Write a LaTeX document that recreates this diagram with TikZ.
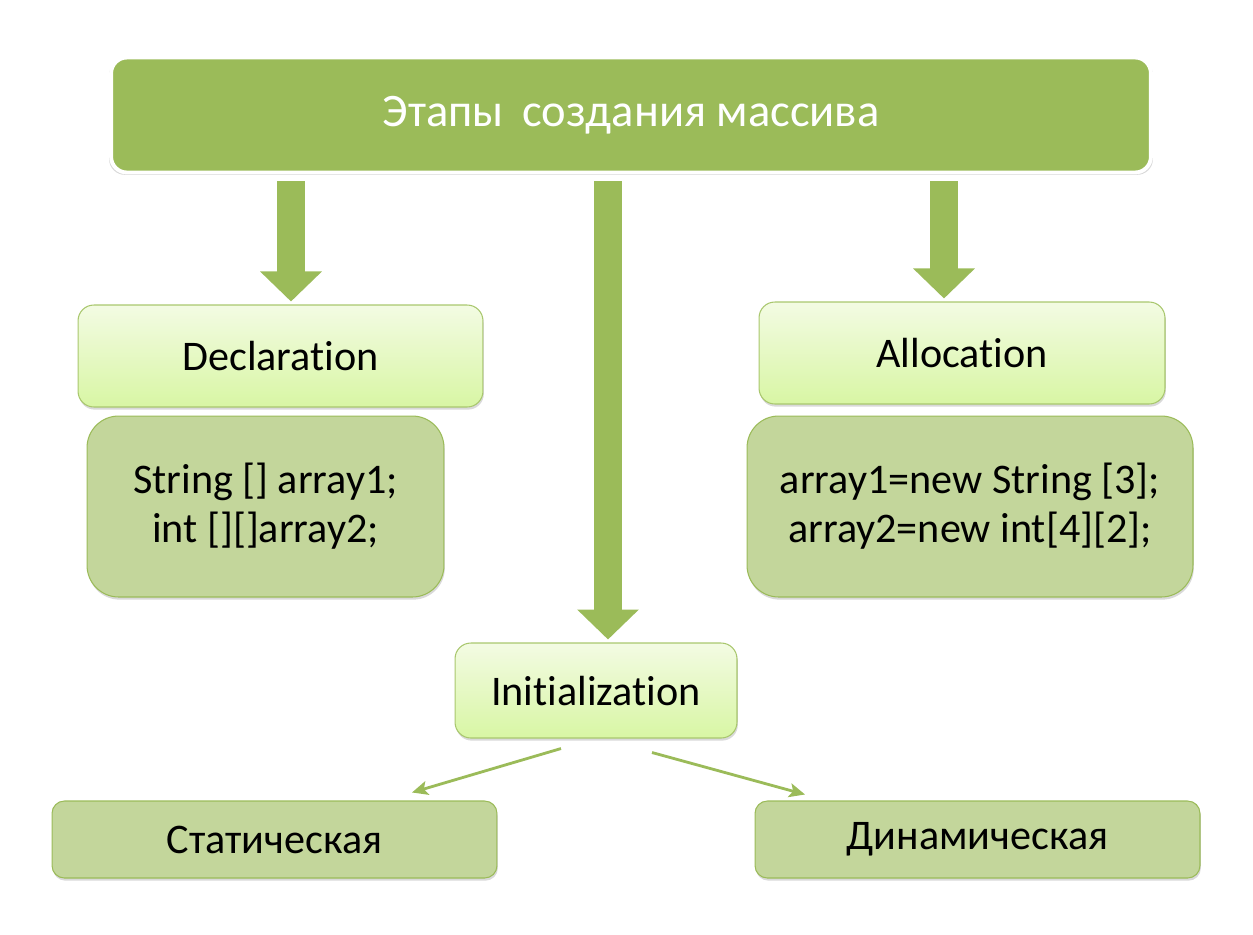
\documentclass[tikz,border=0pt]{standalone}
\usepackage{fontspec}
\setmainfont{Carlito}[Ligatures=NoCommon]
\usepackage{tikz}
\usetikzlibrary{positioning, arrows.meta, shadows, calc}
\definecolor{leafgreen}{HTML}{9BBB59}
\definecolor{sagefill}{HTML}{C3D69B}
\definecolor{palelime}{HTML}{F3FBE3}
\definecolor{limefade}{HTML}{D8F6A4}
\definecolor{rimgreen}{HTML}{A9C76E}

\begin{document}
\begin{tikzpicture}[
  x=0.02cm, y=-0.02cm,
  every node/.style={font=\fontsize{24}{28}\selectfont, text=black},
  headbox/.style={
    draw=white,
    line width=2.2pt,
    fill=leafgreen,
    rounded corners=9pt,
    minimum width=20.8cm,
    minimum height=2.3cm,
    text=white,
    font=\fontsize{26.5}{31}\selectfont,
    drop shadow={opacity=0.3, shadow scale=1.004, shadow xshift=0pt, shadow yshift=-1.2pt},
  },
  stagebox/.style={
    draw=rimgreen,
    line width=0.6pt,
    rounded corners=9pt,
    top color=palelime,
    bottom color=limefade,
    align=center,
    drop shadow={opacity=0.3, shadow xshift=0.5pt, shadow yshift=-1.5pt},
  },
  codebox/.style={
    draw=leafgreen,
    line width=0.6pt,
    rounded corners=18pt,
    fill=sagefill,
    align=center,
    drop shadow={opacity=0.3, shadow xshift=0.5pt, shadow yshift=-1.5pt},
  },
  kindbox/.style={
    draw=leafgreen,
    line width=0.6pt,
    rounded corners=7pt,
    fill=sagefill,
    minimum width=8.9cm,
    minimum height=1.54cm,
    drop shadow={opacity=0.3, shadow xshift=0.5pt, shadow yshift=-1.5pt},
  },
  bigarrow/.style={
    draw=leafgreen,
    line width=0.57cm,
    -{Triangle[width=1.2cm, length=0.6cm]},
    shorten >=0.06cm,
  },
  link/.style={
    draw=leafgreen,
    line width=1.6pt,
    -{Stealth[length=9pt, width=8pt, inset=2pt]},
  },
]
  \useasboundingbox (0,0) rectangle (1253,934);

  \node[headbox] (title) at (631,115) {Этапы\hspace{0.4em}создания массива};

  \node[stagebox, minimum width=8.1cm, minimum height=2.04cm] (decl) at (280.5,356) {Declaration};
  \node[codebox, minimum width=7.14cm, minimum height=3.62cm] (declcode) at (265.5,506.5) {String [] array1;\\int [][]array2;};

  \node[stagebox, minimum width=8.12cm, minimum height=2.04cm] (alloc) at (962,353) {Allocation};
  \node[codebox, minimum width=8.92cm, minimum height=3.62cm] (alloccode) at (970,506.5) {array1=new String [3];\\array2=new int[4][2];};

  \node[stagebox, minimum width=5.64cm, minimum height=1.9cm] (init) at (596,690.5) {Initialization};

  \node[kindbox] (static) at (274.5,839.5) {Статическая};
  \node[kindbox] (dynamic) at (977.5,839.5) {Динамическая};

  % block arrows out of the title
  \coordinate (declfrom) at (291,181);
  \coordinate (initfrom) at (608,181);
  \coordinate (allocfrom) at (944,181);
  \draw[bigarrow] (declfrom) -- (declfrom |- decl.north);
  \draw[bigarrow] (initfrom) -- (initfrom |- init.north);
  \draw[bigarrow] (allocfrom) -- (allocfrom |- alloc.north);

  % two kinds of initialization
  \draw[link] ($(init.south)+(-35,10)$) -- ($(static.north)+(137.5,-8)$);
  \draw[link] ($(init.south)+(56,14)$) -- ($(dynamic.north)+(-172.5,-6)$);
\end{tikzpicture}
\end{document}
